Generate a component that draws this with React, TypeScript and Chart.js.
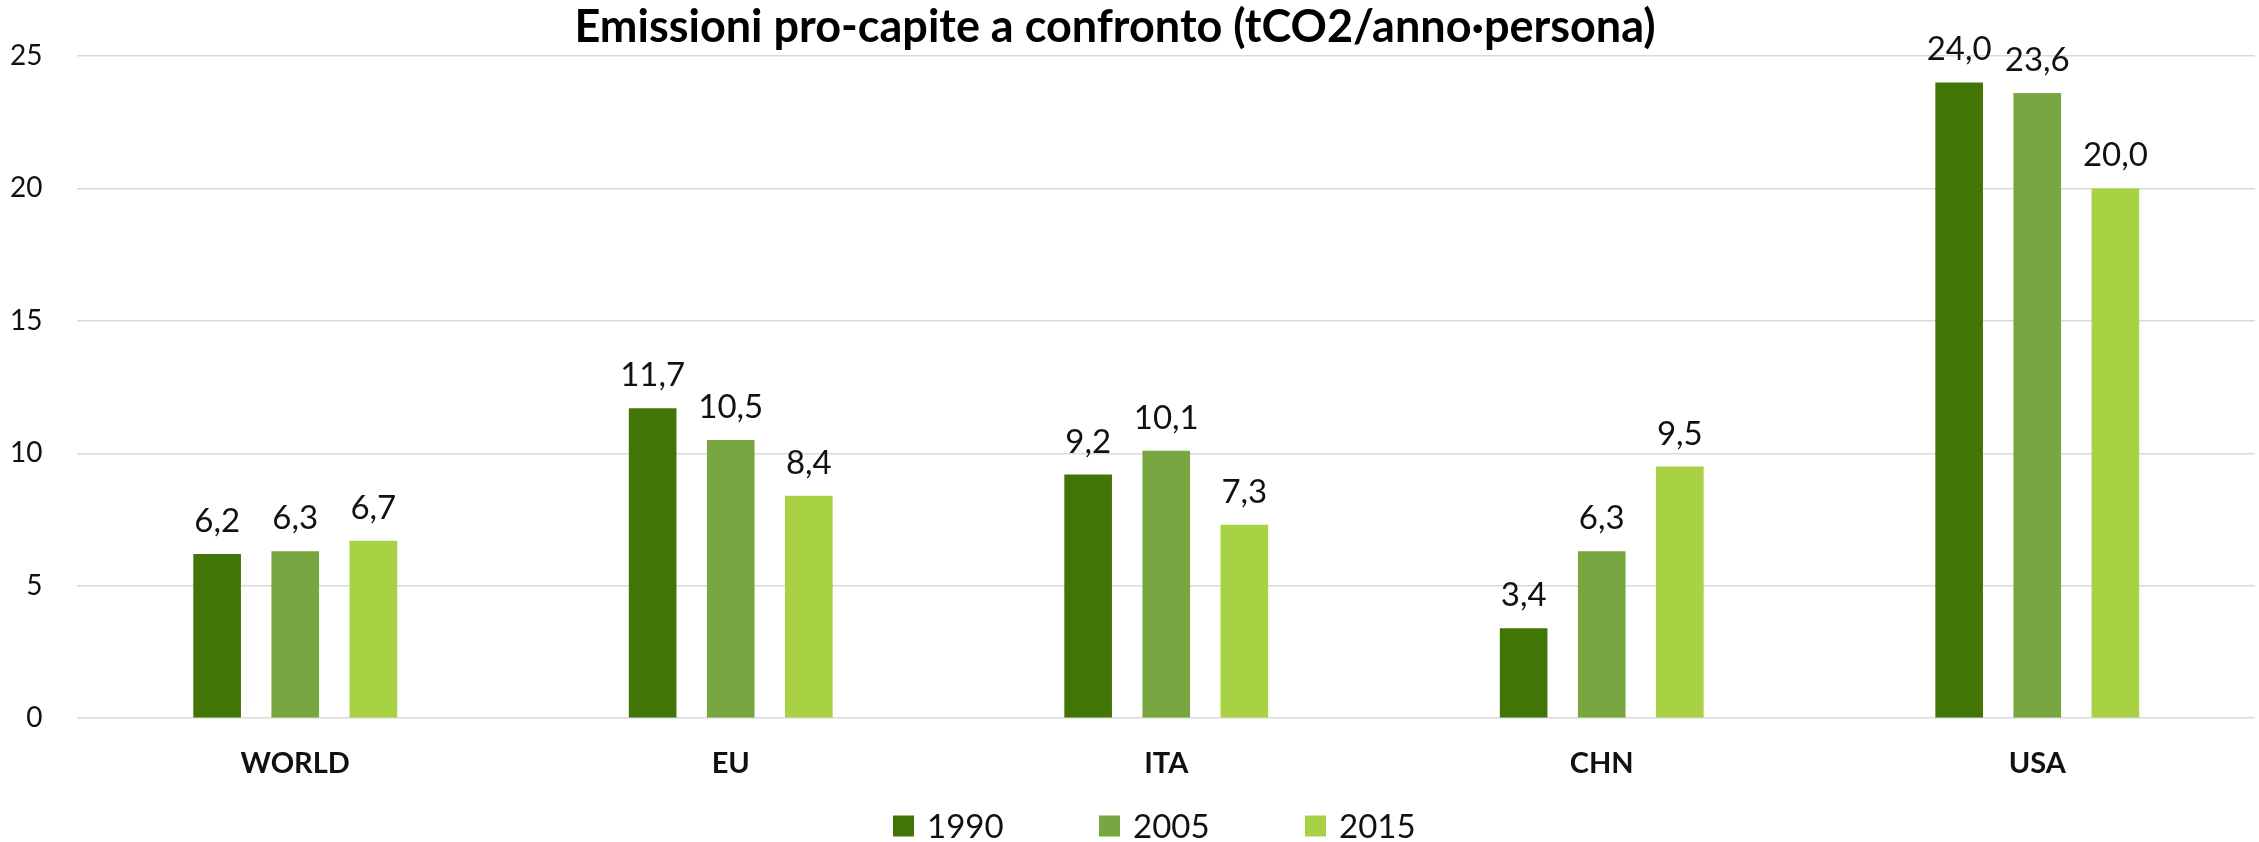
import React, { useEffect, useRef } from "react";
import { Chart, registerables } from "chart.js";

Chart.register(...registerables);

const TITLE = "Emissioni pro-capite a confronto (tCO2/anno·persona)";
const categories = ["WORLD", "EU", "ITA", "CHN", "USA"];
const seriesNames = ["1990", "2005", "2015"];
const values1990 = [6.2, 11.7, 9.2, 3.4, 24.0];
const values2005 = [6.3, 10.5, 10.1, 6.3, 23.6];
const values2015 = [6.7, 8.4, 7.3, 9.5, 20.0];
const seriesColors = ["#417505", "#78A640", "#A8D144"];
const yTicks = [0, 5, 10, 15, 20, 25];

const W = 2259;
const H = 842;

const fmt = (v: number) => v.toFixed(1).replace(".", ",");

const dataLabelPlugin = {
  id: "dataLabels",
  afterDatasetsDraw(chart: any) {
    const ctx = chart.ctx;
    ctx.save();
    ctx.font = "33px Lato";
    ctx.fillStyle = "#111111";
    ctx.textAlign = "center";
    ctx.textBaseline = "alphabetic";
    chart.data.datasets.forEach((ds: any, i: number) => {
      const meta = chart.getDatasetMeta(i);
      meta.data.forEach((bar: any, j: number) => {
        ctx.fillText(fmt(ds.data[j]), bar.x, bar.y - 22);
      });
    });
    ctx.restore();
  },
};

// Legend drawn from the chart's own datasets (labels + colours)
const legendOpts = { startX: 893, centerY: 826, box: 21, gap: 13, pitch: 206, fontSize: 33 };
const customLegendPlugin = {
  id: "customLegend",
  afterDraw(chart: any) {
    const ctx = chart.ctx;
    const o = legendOpts;
    ctx.save();
    ctx.font = `${o.fontSize}px Lato`;
    ctx.textAlign = "left";
    ctx.textBaseline = "middle";
    chart.data.datasets.forEach((ds: any, i: number) => {
      const x = o.startX + i * o.pitch;
      ctx.fillStyle = ds.backgroundColor;
      ctx.fillRect(x, o.centerY - o.box / 2, o.box, o.box);
      ctx.fillStyle = "#111111";
      ctx.fillText(ds.label, x + o.box + o.gap, o.centerY + 1);
    });
    ctx.restore();
  },
};

export default function App() {
  const ref = useRef<HTMLCanvasElement | null>(null);

  useEffect(() => {
    if (!ref.current) return;
    Chart.defaults.font.family = "Lato";
    const chart = new Chart(ref.current, {
      type: "bar",
      data: {
        labels: categories,
        datasets: [values1990, values2005, values2015].map((d, i) => ({
          label: seriesNames[i],
          data: d,
          backgroundColor: seriesColors[i],
          borderWidth: 0,
          categoryPercentage: 0.538,
          barPercentage: 0.61,
        })),
      },
      options: {
        responsive: false,
        devicePixelRatio: 1,
        animation: false,
        layout: { padding: { left: -25, right: 4, top: 0, bottom: 41 } },
        plugins: {
          title: {
            display: true,
            text: TITLE,
            color: "#000000",
            font: { family: "Lato", size: 45, weight: "bold" },
            padding: { top: 0, bottom: 2 },
          },
          legend: { display: false },
          tooltip: { enabled: false },
        },
        scales: {
          x: {
            grid: { display: false },
            border: { display: false },
            ticks: {
              color: "#111111",
              font: { family: "Lato", size: 29, weight: "bold" },
              padding: 20,
            },
          },
          y: {
            min: 0,
            max: 25,
            afterBuildTicks(axis: any) {
              axis.ticks = yTicks.map((v) => ({ value: v }));
            },
            grid: { color: "#d9d9d9", lineWidth: 1.5, drawTicks: false },
            border: { display: false },
            ticks: {
              color: "#111111",
              font: { family: "Lato", size: 28 },
              padding: 35,
            },
          },
        },
      },
      plugins: [dataLabelPlugin, customLegendPlugin],
    });
    return () => chart.destroy();
  }, []);

  return (
    <div style={{ position: "fixed", left: 0, top: 0, width: W, height: H, background: "#ffffff" }}>
      <canvas ref={ref} width={W} height={H} style={{ display: "block", width: W, height: H }} />
    </div>
  );
}
